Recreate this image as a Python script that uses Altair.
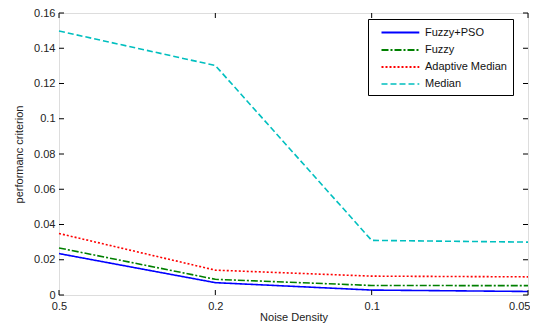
import altair as alt
import pandas as pd

noise = ["0.5", "0.2", "0.1", "0.05"]
series = ["Fuzzy+PSO", "Fuzzy", "Adaptive Median", "Median"]
fuzzy_pso = [0.0235, 0.0070, 0.0028, 0.0020]
fuzzy = [0.0267, 0.0089, 0.0054, 0.0053]
adaptive = [0.0349, 0.0141, 0.0107, 0.0103]
median = [0.1498, 0.1302, 0.0310, 0.0300]
colors = ["#0000ff", "#008000", "#ff0000", "#00bfbf"]
dashes = [[1, 0], [7, 2, 2, 2], [2, 2], [6, 3]]
widths = [2.2, 1.6, 1.6, 1.6]
y_ticks = [0, 0.02, 0.04, 0.06, 0.08, 0.1, 0.12, 0.14, 0.16]

rows = []
for name, vals in zip(series, [fuzzy_pso, fuzzy, adaptive, median]):
    for i, (x, v) in enumerate(zip(noise, vals)):
        rows.append({"noise": x, "value": v, "series": name, "order": i})
df = pd.DataFrame(rows)

W, H = 469, 282
xscale = alt.Scale(type="point", domain=noise, padding=0)
yscale = alt.Scale(domain=[0, 0.16], nice=False)

xaxis = alt.Axis(title="Noise Density", labelAngle=0, ticks=False, domain=False,
                 labelFontSize=11, labelColor="#222", labelFont="Liberation Sans",
                 labelAlign={"expr": "datum.value == '0.05' ? 'right' : 'center'"},
                 labelOffset={"expr": "datum.value == '0.05' ? 2 : 0"},
                 titleFontSize=11, titleFontWeight="normal", titleColor="#222",
                 titleFont="Liberation Sans", labelPadding=5, titlePadding=0)
yaxis = alt.Axis(title="performanc criterion", values=y_ticks, ticks=False, domain=False,
                 grid=False, labelFontSize=11, labelColor="#222", labelFont="Liberation Sans",
                 labelOverlap=False, format="~g",
                 titleFontSize=11, titleFontWeight="normal", titleColor="#222",
                 titleFont="Liberation Sans", labelPadding=4, titlePadding=9)

legend = alt.Legend(title=None, orient="none", legendX=309, legendY=6,
                    symbolType="M0,0H6.3", symbolSize=144, symbolStrokeWidth=1.6,
                    labelFontSize=11, labelFont="Liberation Sans", labelColor="#111",
                    strokeColor="#000", fillColor="#fff", padding=6,
                    rowPadding=5, labelOffset=36)

lines = alt.Chart(df).mark_line(strokeWidth=1.6).encode(
    x=alt.X("noise:O", scale=xscale, sort=noise, axis=xaxis),
    y=alt.Y("value:Q", scale=yscale, axis=yaxis),
    color=alt.Color("series:N", scale=alt.Scale(domain=series, range=colors), sort=series,
                    legend=legend),
    strokeDash=alt.StrokeDash("series:N", scale=alt.Scale(domain=series, range=dashes), sort=series,
                              legend=legend),
    strokeWidth=alt.StrokeWidth("series:N", scale=alt.Scale(domain=series, range=widths), legend=None),
    order="order:Q",
)

ytick_df = pd.DataFrame({"v": y_ticks})
xtick_df = pd.DataFrame({"noise": noise})

ytl = alt.Chart(ytick_df).mark_rule(color="#000", strokeWidth=1).encode(
    y=alt.Y("v:Q", scale=yscale, axis=yaxis), x=alt.value(0), x2=alt.value(5))
ytr = alt.Chart(ytick_df).mark_rule(color="#000", strokeWidth=1).encode(
    y=alt.Y("v:Q", scale=yscale, axis=yaxis), x=alt.value(W - 5), x2=alt.value(W))
xtb = alt.Chart(xtick_df).mark_rule(color="#000", strokeWidth=1).encode(
    x=alt.X("noise:O", scale=xscale, sort=noise, axis=xaxis), y=alt.value(H - 5), y2=alt.value(H))
xtt = alt.Chart(xtick_df).mark_rule(color="#000", strokeWidth=1).encode(
    x=alt.X("noise:O", scale=xscale, sort=noise, axis=xaxis), y=alt.value(0), y2=alt.value(5))

chart = alt.layer(lines, ytl, ytr, xtb, xtt).properties(
    width=W, height=H,
    autosize=alt.AutoSizeParams(type="none"),
    padding={"left": 51, "top": 5, "right": 2, "bottom": 28},
).configure_view(stroke="#000", strokeWidth=1).configure(background="#fff")

chart.save("out.html", embed_options={"renderer": "svg", "actions": False})
